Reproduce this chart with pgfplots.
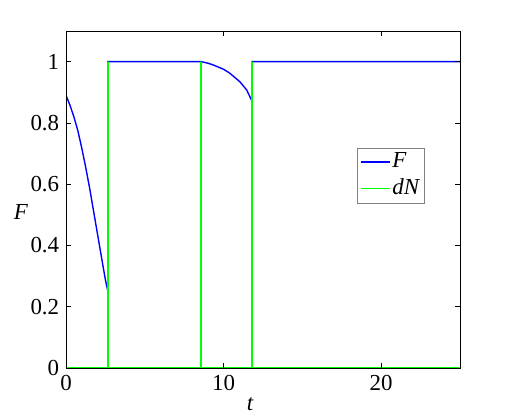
\documentclass[border=0pt]{standalone}
\usepackage{fontspec}
\setmainfont{Liberation Serif}
\usepackage{pgfplots}
\pgfplotsset{compat=1.18}

\begin{document}
\fontsize{23}{27}\selectfont
\begin{tikzpicture}[x=1bp,y=1bp]
\begin{axis}[
    name=ax,
    scale only axis,
    width=394bp,
    height=337bp,
    xmin=0, xmax=25,
    ymin=0, ymax=1.1,
    xtick={0,10,20},
    ytick={0,0.2,0.4,0.6,0.8,1},
    yticklabels={0,0.2,0.4,0.6,0.8,1},
    tick align=inside,
    major tick length=5bp,
    tick style={black, line width=0.6pt},
    axis line style={black, line width=0.8pt},
    axis on top,
    /pgf/number format/assume math mode=true,
    ticklabel style={font=\fontsize{23}{27}\selectfont},
    xticklabel style={yshift=1bp},
    yticklabel style={xshift=1bp},
    xlabel={\textit{t}},
    xlabel style={at={(axis cs:11.7,0)}, anchor=north, yshift=-22bp},
    ylabel={\textit{F}},
    ylabel style={rotate=-90, at={(axis cs:0,0.51)}, anchor=center, xshift=-45bp},
    legend style={at={(0.739,0.653)}, anchor=north west, draw=gray,
        inner sep=2.5pt, row sep=4bp, font=\fontsize{23}{27}\selectfont},
    legend cell align=left,
    legend image code/.code={%
        \draw[#1, line width=1.5pt] (0bp,0bp) -- (29bp,0bp);},
]
\addplot[color=blue, line width=1.4pt] coordinates {
(0,0.89) (0.25,0.858) (0.5,0.82) (0.75,0.775) (1.0,0.718) (1.25,0.655)
(1.5,0.587) (1.75,0.512) (2.0,0.437) (2.25,0.362) (2.5,0.288) (2.66,0.25)
(2.66,1) (8.57,1)
(9.0,0.995) (9.35,0.989) (10.0,0.975) (10.4,0.962) (11.04,0.934) (11.47,0.907)
(11.8,0.871) (11.8,1) (25,1)
};
\addlegendentry{\textit{F}}
\addplot[color=green, line width=1.6pt] coordinates {
(0,0) (2.66,0) (2.66,1) (2.66,0) (8.57,0) (8.57,1) (8.57,0)
(11.8,0) (11.8,1) (11.8,0) (25,0)
};
\addlegendentry{\textit{dN}}
\end{axis}
\path (ax.south west) ++(-66bp,-46bp) coordinate (bl);
\path (ax.north east) ++(49bp,31bp) coordinate (tr);
\useasboundingbox (bl) rectangle (tr);
\end{tikzpicture}
\end{document}
